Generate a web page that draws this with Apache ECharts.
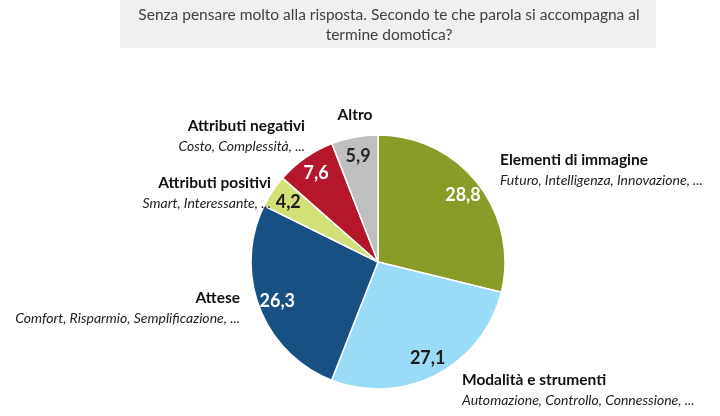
<!DOCTYPE html>
<html><head><meta charset="utf-8">
<script src="https://cdn.jsdelivr.net/npm/echarts@6/dist/echarts.min.js"></script>
<style>html,body{margin:0;padding:0;background:#fff}#c{width:720px;height:416px}</style>
</head><body><div id="c"></div>
<script>
const categories = ['Elementi di immagine','Modalità e strumenti','Attese','Attributi positivi','Attributi negativi','Altro'];
const subtitles = ['Futuro, Intelligenza, Innovazione, ...','Automazione, Controllo, Connessione, ...','Comfort, Risparmio, Semplificazione, ...','Smart, Interessante, ...','Costo, Complessità, ...',''];
const values = [28.8, 27.1, 26.3, 4.2, 7.6, 5.9];
const colors = ['#8b9b28','#9adcf7','#175184','#d3df77','#b4162b','#bfbfbf'];
const valueColors = ['#ffffff','#1a1a1a','#ffffff','#1a1a1a','#ffffff','#262626'];
const titleText = 'Senza pensare molto alla risposta. Secondo te che parola si accompagna al\ntermine domotica?';

const labelPos = [
  {x:500,y:170,align:'left'},
  {x:462,y:390,align:'left'},
  {x:240,y:308,align:'right'},
  {x:271,y:193,align:'right'},
  {x:305,y:136,align:'right'},
  {x:355,y:115,align:'center'}
];
const font = 'Lato, "Open Sans", sans-serif';
const chart = echarts.init(document.getElementById('c'));
const baseData = categories.map((c,i)=>({name:c, value:values[i]}));
chart.setOption({
  animation:false,
  graphic:[
    {type:'rect', z:0, shape:{x:120,y:0,width:536,height:48}, style:{fill:'#f0f0f0'}},
    {type:'text', z:1, x:389, y:5, style:{text:titleText, align:'center', verticalAlign:'top', font:'15.5px '+font, fill:'#404040', lineHeight:20}}
  ],
  series:[
    {type:'pie', center:[378,262], radius:[0,127], startAngle:90, clockwise:true, silent:true,
     itemStyle:{borderColor:'#fff', borderWidth:1.5},
     label:{show:false}, labelLine:{show:false},
     data: baseData.map((d,i)=>({...d, itemStyle:{color:colors[i]}}))},
    {type:'pie', center:[378,262], radius:[80,130], startAngle:90, clockwise:true, silent:true,
     itemStyle:{color:'rgba(0,0,0,0)', borderWidth:0}, labelLine:{show:false},
     label:{show:true, position:'inside', fontFamily:font, fontSize:18, fontWeight:'bold',
       formatter:p=>String(p.value).replace('.',',')},
     data: baseData.map((d,i)=>({...d, label:{color:valueColors[i]}}))},
    {type:'pie', center:[378,262], radius:[0,127], startAngle:90, clockwise:true, silent:true,
     avoidLabelOverlap:false,
     itemStyle:{color:'rgba(0,0,0,0)', borderWidth:0}, labelLine:{show:false},
     label:{show:true, position:'outside', overflow:'none', fontFamily:font,
       formatter:p=>subtitles[p.dataIndex] ? '{b|'+p.name+'}\n{i|'+subtitles[p.dataIndex]+'}' : '{b|'+p.name+'}',
       rich:{b:{fontFamily:font, fontSize:15.5, fontWeight:'bold', color:'#111', lineHeight:20},
             i:{fontFamily:font, fontSize:14, fontStyle:'italic', color:'#222', lineHeight:20}}},
     labelLayout:p=>({x:labelPos[p.dataIndex].x, y:labelPos[p.dataIndex].y, align:labelPos[p.dataIndex].align, verticalAlign:'middle'}),
     data: baseData}
  ]
});
</script></body></html>
